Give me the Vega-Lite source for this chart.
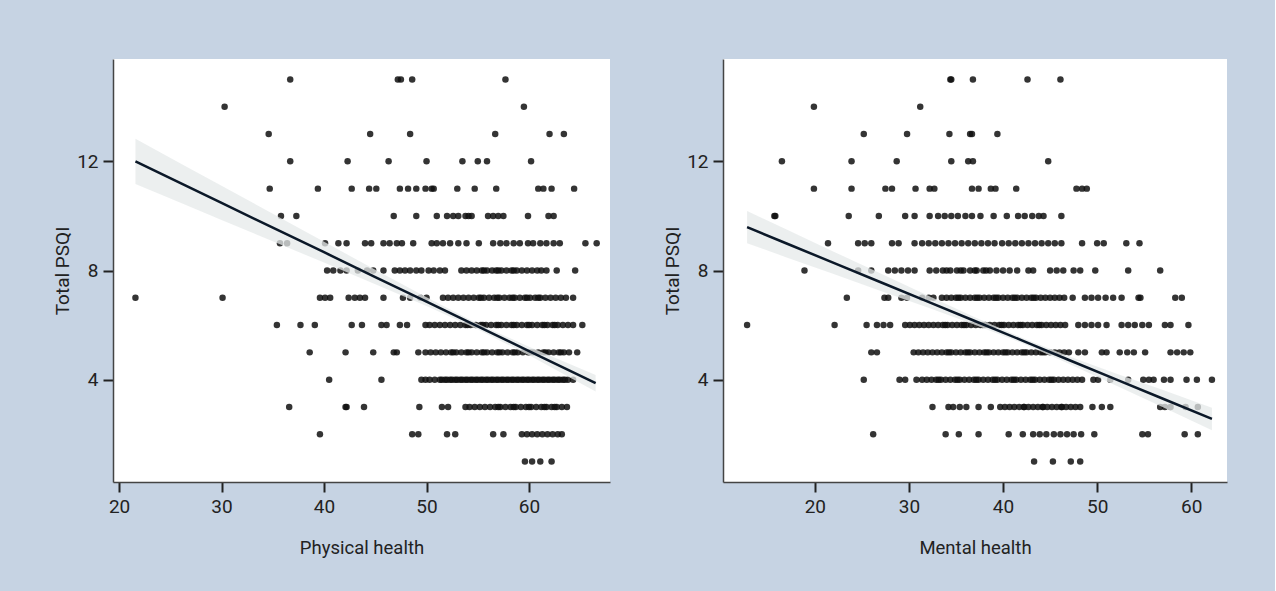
{
"$schema": "https://vega.github.io/schema/vega-lite/v6.json",
"background": "#c6d3e3",
"padding": {"left": 53, "top": 59, "right": 48, "bottom": 35},
"spacing": 53,
"config": {
  "view": {"fill": "white", "stroke": null},
  "font": "Roboto",
  "axis": {"grid": false, "domainColor": "#444", "domainWidth": 1.5, "tickColor": "#222", "tickWidth": 2, "tickSize": 10, "labelFontSize": 19, "labelColor": "#222", "labelPadding": 5, "titleFontSize": 18.5, "titleFontWeight": "normal", "titleColor": "#222"},
  "axisX": {"titlePadding": 22},
  "axisY": {"titlePadding": 4, "titleFontSize": 19}
},
"datasets": {
"physical": [
{"x":36.7,"y":15},{"x":47.2,"y":15},{"x":47.5,"y":15},{"x":48.6,"y":15},{"x":57.7,"y":15},
{"x":30.3,"y":14},{"x":59.5,"y":14},
{"x":34.6,"y":13},{"x":44.5,"y":13},{"x":48.4,"y":13},{"x":56.7,"y":13},{"x":62.0,"y":13},{"x":63.4,"y":13},
{"x":36.7,"y":12},{"x":42.3,"y":12},{"x":46.3,"y":12},{"x":50.0,"y":12},{"x":53.5,"y":12},{"x":55.0,"y":12},{"x":55.9,"y":12},{"x":60.2,"y":12},
{"x":34.7,"y":11},{"x":39.4,"y":11},{"x":42.7,"y":11},{"x":44.4,"y":11},{"x":45.1,"y":11},{"x":47.4,"y":11},{"x":48.2,"y":11},{"x":49.0,"y":11},{"x":49.9,"y":11},{"x":50.5,"y":11},{"x":50.7,"y":11},{"x":53.0,"y":11},{"x":54.7,"y":11},{"x":56.8,"y":11},{"x":60.9,"y":11},{"x":61.4,"y":11},{"x":62.2,"y":11},{"x":64.4,"y":11},
{"x":35.8,"y":10},{"x":37.3,"y":10},{"x":46.8,"y":10},{"x":49.0,"y":10},{"x":51.0,"y":10},{"x":52.0,"y":10},{"x":52.6,"y":10},{"x":53.1,"y":10},{"x":53.8,"y":10},{"x":54.1,"y":10},{"x":54.4,"y":10},{"x":56.0,"y":10},{"x":56.5,"y":10},{"x":57.0,"y":10},{"x":57.5,"y":10},{"x":59.9,"y":10},{"x":61.9,"y":10},{"x":62.4,"y":10},
{"x":35.7,"y":9},{"x":36.4,"y":9},{"x":40.1,"y":9},{"x":41.4,"y":9},{"x":42.2,"y":9},{"x":44.0,"y":9},{"x":44.6,"y":9},{"x":45.8,"y":9},{"x":46.4,"y":9},{"x":47.1,"y":9},{"x":47.6,"y":9},{"x":48.7,"y":9},{"x":50.5,"y":9},{"x":51.0,"y":9},{"x":51.6,"y":9},{"x":52.3,"y":9},{"x":53.1,"y":9},{"x":53.9,"y":9},{"x":55.1,"y":9},{"x":56.5,"y":9},{"x":57.2,"y":9},{"x":57.8,"y":9},{"x":58.5,"y":9},{"x":59.1,"y":9},{"x":59.9,"y":9},{"x":60.4,"y":9},{"x":61.1,"y":9},{"x":61.7,"y":9},{"x":62.4,"y":9},{"x":63.0,"y":9},{"x":65.5,"y":9},{"x":66.6,"y":9},
{"x":40.3,"y":8},{"x":40.9,"y":8},{"x":41.6,"y":8},{"x":42.2,"y":8},{"x":43.3,"y":8},{"x":44.2,"y":8},{"x":44.8,"y":8},{"x":45.8,"y":8},{"x":46.9,"y":8},{"x":47.4,"y":8},{"x":47.9,"y":8},{"x":48.4,"y":8},{"x":49.0,"y":8},{"x":49.5,"y":8},{"x":50.2,"y":8},{"x":50.7,"y":8},{"x":51.3,"y":8},{"x":51.8,"y":8},{"x":53.4,"y":8},{"x":53.9,"y":8},{"x":54.4,"y":8},{"x":54.9,"y":8},{"x":55.4,"y":8},{"x":55.9,"y":8},{"x":56.4,"y":8},{"x":56.8,"y":8},{"x":57.3,"y":8},{"x":57.8,"y":8},{"x":58.3,"y":8},{"x":58.8,"y":8},{"x":59.3,"y":8},{"x":59.8,"y":8},{"x":60.3,"y":8},{"x":60.8,"y":8},{"x":61.2,"y":8},{"x":61.7,"y":8},{"x":62.7,"y":8},{"x":64.5,"y":8},{"x":55.6,"y":8},{"x":57.0,"y":8},{"x":58.5,"y":8},
{"x":21.6,"y":7},{"x":30.1,"y":7},{"x":39.6,"y":7},{"x":40.1,"y":7},{"x":40.6,"y":7},{"x":42.4,"y":7},{"x":43.0,"y":7},{"x":43.5,"y":7},{"x":44.0,"y":7},{"x":45.8,"y":7},{"x":47.7,"y":7},{"x":48.4,"y":7},{"x":49.4,"y":7},{"x":50.0,"y":7},
{"x":51.6,"y":7},{"x":52.1,"y":7},{"x":52.6,"y":7},{"x":53.1,"y":7},{"x":53.6,"y":7},{"x":54.1,"y":7},{"x":54.6,"y":7},{"x":55.1,"y":7},{"x":55.6,"y":7},{"x":56.1,"y":7},{"x":56.6,"y":7},{"x":57.1,"y":7},{"x":57.6,"y":7},{"x":58.1,"y":7},{"x":58.6,"y":7},{"x":59.1,"y":7},{"x":59.6,"y":7},{"x":60.1,"y":7},{"x":60.6,"y":7},{"x":61.1,"y":7},{"x":61.6,"y":7},{"x":62.1,"y":7},{"x":62.6,"y":7},{"x":63.1,"y":7},{"x":63.6,"y":7},{"x":64.3,"y":7},{"x":55.3,"y":7},{"x":56.9,"y":7},{"x":58.4,"y":7},{"x":59.8,"y":7},{"x":60.9,"y":7},
{"x":35.4,"y":6},{"x":37.7,"y":6},{"x":39.1,"y":6},{"x":42.7,"y":6},{"x":43.7,"y":6},{"x":45.6,"y":6},{"x":46.1,"y":6},{"x":47.4,"y":6},{"x":48.1,"y":6},{"x":49.9,"y":6},{"x":50.3,"y":6},
{"x":50.8,"y":6},{"x":51.3,"y":6},{"x":51.8,"y":6},{"x":52.3,"y":6},{"x":52.8,"y":6},{"x":53.3,"y":6},{"x":53.8,"y":6},{"x":54.3,"y":6},{"x":54.8,"y":6},{"x":55.3,"y":6},{"x":55.8,"y":6},{"x":56.3,"y":6},{"x":56.8,"y":6},{"x":57.3,"y":6},{"x":57.8,"y":6},{"x":58.3,"y":6},{"x":58.8,"y":6},{"x":59.3,"y":6},{"x":59.8,"y":6},{"x":60.3,"y":6},{"x":60.8,"y":6},{"x":61.3,"y":6},{"x":61.8,"y":6},{"x":62.3,"y":6},{"x":62.8,"y":6},{"x":63.3,"y":6},{"x":63.8,"y":6},{"x":64.3,"y":6},{"x":65.2,"y":6},{"x":54.0,"y":6},{"x":55.5,"y":6},{"x":57.0,"y":6},{"x":58.5,"y":6},{"x":60.0,"y":6},{"x":61.5,"y":6},{"x":62.5,"y":6},
{"x":38.6,"y":5},{"x":42.1,"y":5},{"x":44.8,"y":5},{"x":46.8,"y":5},{"x":47.1,"y":5},{"x":49.2,"y":5},
{"x":49.9,"y":5},{"x":50.4,"y":5},{"x":50.9,"y":5},{"x":51.4,"y":5},{"x":51.9,"y":5},{"x":52.4,"y":5},{"x":52.9,"y":5},{"x":53.4,"y":5},{"x":53.9,"y":5},{"x":54.4,"y":5},{"x":54.9,"y":5},{"x":55.4,"y":5},{"x":55.9,"y":5},{"x":56.4,"y":5},{"x":56.9,"y":5},{"x":57.4,"y":5},{"x":57.9,"y":5},{"x":58.4,"y":5},{"x":58.9,"y":5},{"x":59.4,"y":5},{"x":59.9,"y":5},{"x":60.4,"y":5},{"x":60.9,"y":5},{"x":61.4,"y":5},{"x":61.9,"y":5},{"x":62.4,"y":5},{"x":62.9,"y":5},{"x":63.4,"y":5},{"x":63.9,"y":5},{"x":64.7,"y":5},{"x":52.6,"y":5},{"x":54.1,"y":5},{"x":55.6,"y":5},{"x":57.1,"y":5},{"x":58.6,"y":5},{"x":60.1,"y":5},{"x":61.6,"y":5},{"x":63.1,"y":5},
{"x":40.5,"y":4},{"x":45.6,"y":4},{"x":49.5,"y":4},{"x":49.9,"y":4},
{"x":50.3,"y":4},{"x":50.8,"y":4},{"x":51.3,"y":4},{"x":51.8,"y":4},{"x":52.3,"y":4},{"x":52.8,"y":4},{"x":53.3,"y":4},{"x":53.8,"y":4},{"x":54.3,"y":4},{"x":54.8,"y":4},{"x":55.3,"y":4},{"x":55.8,"y":4},{"x":56.3,"y":4},{"x":56.8,"y":4},{"x":57.3,"y":4},{"x":57.8,"y":4},{"x":58.3,"y":4},{"x":58.8,"y":4},{"x":59.3,"y":4},{"x":59.8,"y":4},{"x":60.3,"y":4},{"x":60.8,"y":4},{"x":61.3,"y":4},{"x":61.8,"y":4},{"x":62.3,"y":4},{"x":62.8,"y":4},{"x":63.3,"y":4},{"x":63.8,"y":4},{"x":64.3,"y":4},
{"x":51.5,"y":4},{"x":52.0,"y":4},{"x":52.5,"y":4},{"x":53.0,"y":4},{"x":53.5,"y":4},{"x":54.0,"y":4},{"x":54.5,"y":4},{"x":55.0,"y":4},{"x":55.5,"y":4},{"x":56.0,"y":4},{"x":56.5,"y":4},{"x":57.0,"y":4},{"x":57.5,"y":4},{"x":58.0,"y":4},{"x":58.5,"y":4},{"x":59.0,"y":4},{"x":59.5,"y":4},{"x":60.0,"y":4},{"x":60.5,"y":4},{"x":61.0,"y":4},{"x":61.5,"y":4},{"x":62.0,"y":4},{"x":62.5,"y":4},{"x":63.0,"y":4},{"x":63.5,"y":4},
{"x":36.6,"y":3},{"x":42.1,"y":3},{"x":42.2,"y":3},{"x":43.9,"y":3},{"x":49.3,"y":3},{"x":51.5,"y":3},{"x":52.1,"y":3},{"x":53.8,"y":3},{"x":54.2,"y":3},{"x":54.7,"y":3},
{"x":55.2,"y":3},{"x":55.7,"y":3},{"x":56.2,"y":3},{"x":56.7,"y":3},{"x":57.2,"y":3},{"x":57.7,"y":3},{"x":58.2,"y":3},{"x":58.7,"y":3},{"x":59.2,"y":3},{"x":59.7,"y":3},{"x":60.2,"y":3},{"x":60.7,"y":3},{"x":61.2,"y":3},{"x":61.7,"y":3},{"x":62.2,"y":3},{"x":62.7,"y":3},{"x":63.2,"y":3},{"x":63.7,"y":3},{"x":57.0,"y":3},{"x":58.5,"y":3},{"x":60.0,"y":3},{"x":61.5,"y":3},{"x":62.5,"y":3},
{"x":39.6,"y":2},{"x":48.6,"y":2},{"x":49.2,"y":2},{"x":52.0,"y":2},{"x":52.8,"y":2},{"x":56.5,"y":2},{"x":57.5,"y":2},{"x":59.3,"y":2},{"x":59.8,"y":2},{"x":60.3,"y":2},{"x":60.8,"y":2},{"x":61.3,"y":2},{"x":61.8,"y":2},{"x":62.3,"y":2},{"x":62.8,"y":2},{"x":63.2,"y":2},
{"x":59.6,"y":1},{"x":60.3,"y":1},{"x":61.1,"y":1},{"x":62.2,"y":1}
],
"mental": [
{"x":34.4,"y":15},{"x":34.5,"y":15},{"x":36.8,"y":15},{"x":42.6,"y":15},{"x":46.1,"y":15},
{"x":19.9,"y":14},{"x":31.2,"y":14},
{"x":25.2,"y":13},{"x":29.8,"y":13},{"x":34.3,"y":13},{"x":36.5,"y":13},{"x":36.7,"y":13},{"x":39.4,"y":13},
{"x":16.5,"y":12},{"x":23.9,"y":12},{"x":28.7,"y":12},{"x":34.5,"y":12},{"x":36.3,"y":12},{"x":36.8,"y":12},{"x":44.8,"y":12},
{"x":19.9,"y":11},{"x":23.9,"y":11},{"x":27.5,"y":11},{"x":28.2,"y":11},{"x":30.7,"y":11},{"x":32.2,"y":11},{"x":32.7,"y":11},{"x":36.7,"y":11},{"x":37.4,"y":11},{"x":38.7,"y":11},{"x":39.2,"y":11},{"x":41.4,"y":11},{"x":47.8,"y":11},{"x":48.4,"y":11},{"x":48.9,"y":11},
{"x":15.7,"y":10},{"x":15.8,"y":10},{"x":23.6,"y":10},{"x":26.8,"y":10},{"x":29.6,"y":10},{"x":30.6,"y":10},{"x":32.2,"y":10},{"x":33.1,"y":10},{"x":33.8,"y":10},{"x":34.5,"y":10},{"x":35.2,"y":10},{"x":36.0,"y":10},{"x":36.7,"y":10},{"x":37.6,"y":10},{"x":39.0,"y":10},{"x":40.4,"y":10},{"x":41.6,"y":10},{"x":42.3,"y":10},{"x":43.1,"y":10},{"x":43.8,"y":10},{"x":44.3,"y":10},{"x":46.2,"y":10},
{"x":21.4,"y":9},{"x":24.6,"y":9},{"x":25.3,"y":9},{"x":26.0,"y":9},{"x":28.2,"y":9},{"x":28.9,"y":9},{"x":30.6,"y":9},{"x":31.4,"y":9},{"x":32.1,"y":9},{"x":32.8,"y":9},{"x":33.5,"y":9},{"x":34.2,"y":9},{"x":34.9,"y":9},{"x":35.6,"y":9},{"x":36.3,"y":9},{"x":37.0,"y":9},{"x":37.7,"y":9},{"x":38.4,"y":9},{"x":39.1,"y":9},{"x":39.9,"y":9},{"x":40.6,"y":9},{"x":41.3,"y":9},{"x":42.0,"y":9},{"x":42.7,"y":9},{"x":43.4,"y":9},{"x":44.1,"y":9},{"x":44.8,"y":9},{"x":45.5,"y":9},{"x":46.2,"y":9},{"x":48.4,"y":9},{"x":50.0,"y":9},{"x":50.7,"y":9},{"x":53.1,"y":9},{"x":54.5,"y":9},
{"x":18.9,"y":8},{"x":24.6,"y":8},{"x":26.0,"y":8},{"x":27.8,"y":8},{"x":28.5,"y":8},{"x":29.2,"y":8},{"x":29.9,"y":8},{"x":30.6,"y":8},{"x":32.2,"y":8},{"x":32.9,"y":8},{"x":33.6,"y":8},{"x":34.4,"y":8},{"x":35.1,"y":8},{"x":35.8,"y":8},{"x":36.5,"y":8},{"x":37.2,"y":8},{"x":37.9,"y":8},{"x":38.6,"y":8},{"x":39.3,"y":8},{"x":40.0,"y":8},{"x":40.7,"y":8},{"x":41.5,"y":8},{"x":42.7,"y":8},{"x":43.2,"y":8},{"x":45.0,"y":8},{"x":45.7,"y":8},{"x":46.4,"y":8},{"x":47.5,"y":8},{"x":48.2,"y":8},{"x":49.8,"y":8},{"x":53.3,"y":8},{"x":56.7,"y":8},{"x":34.0,"y":8},{"x":35.5,"y":8},{"x":37.0,"y":8},{"x":38.2,"y":8},
{"x":23.4,"y":7},{"x":27.4,"y":7},{"x":27.8,"y":7},{"x":29.2,"y":7},{"x":29.8,"y":7},{"x":31.4,"y":7},{"x":32.1,"y":7},{"x":32.6,"y":7},
{"x":33.5,"y":7},{"x":34.0,"y":7},{"x":34.5,"y":7},{"x":35.0,"y":7},{"x":35.5,"y":7},{"x":36.0,"y":7},{"x":36.5,"y":7},{"x":37.0,"y":7},{"x":37.5,"y":7},{"x":38.0,"y":7},{"x":38.5,"y":7},{"x":39.0,"y":7},{"x":39.5,"y":7},{"x":40.0,"y":7},{"x":40.5,"y":7},{"x":41.0,"y":7},{"x":41.5,"y":7},{"x":42.0,"y":7},{"x":42.5,"y":7},{"x":43.0,"y":7},{"x":43.5,"y":7},{"x":44.0,"y":7},{"x":44.5,"y":7},{"x":45.0,"y":7},{"x":45.5,"y":7},{"x":46.0,"y":7},{"x":46.5,"y":7},
{"x":47.4,"y":7},{"x":48.7,"y":7},{"x":49.4,"y":7},{"x":50.1,"y":7},{"x":50.9,"y":7},{"x":51.7,"y":7},{"x":52.6,"y":7},{"x":54.4,"y":7},{"x":54.6,"y":7},{"x":58.3,"y":7},{"x":59.0,"y":7},{"x":35.25,"y":7},{"x":37.25,"y":7},{"x":39.25,"y":7},{"x":41.25,"y":7},{"x":43.25,"y":7},
{"x":12.8,"y":6},{"x":22.1,"y":6},{"x":25.5,"y":6},{"x":26.6,"y":6},{"x":27.3,"y":6},{"x":28.0,"y":6},
{"x":29.6,"y":6},{"x":30.1,"y":6},{"x":30.6,"y":6},{"x":31.1,"y":6},{"x":31.6,"y":6},{"x":32.1,"y":6},{"x":32.6,"y":6},{"x":33.1,"y":6},{"x":33.6,"y":6},{"x":34.1,"y":6},{"x":34.6,"y":6},{"x":35.1,"y":6},{"x":35.6,"y":6},{"x":36.1,"y":6},{"x":36.6,"y":6},{"x":37.1,"y":6},{"x":37.6,"y":6},{"x":38.1,"y":6},{"x":38.6,"y":6},{"x":39.1,"y":6},{"x":39.6,"y":6},{"x":40.1,"y":6},{"x":40.6,"y":6},{"x":41.1,"y":6},{"x":41.6,"y":6},{"x":42.1,"y":6},{"x":42.6,"y":6},{"x":43.1,"y":6},{"x":43.6,"y":6},{"x":44.1,"y":6},{"x":44.6,"y":6},{"x":45.1,"y":6},{"x":45.6,"y":6},{"x":46.1,"y":6},{"x":46.6,"y":6},
{"x":48.0,"y":6},{"x":48.7,"y":6},{"x":49.4,"y":6},{"x":50.1,"y":6},{"x":51.0,"y":6},{"x":52.6,"y":6},{"x":53.3,"y":6},{"x":54.0,"y":6},{"x":54.8,"y":6},{"x":55.5,"y":6},{"x":57.2,"y":6},{"x":57.8,"y":6},{"x":59.7,"y":6},{"x":33.85,"y":6},{"x":35.85,"y":6},{"x":37.85,"y":6},{"x":39.85,"y":6},{"x":41.85,"y":6},{"x":43.85,"y":6},
{"x":26.0,"y":5},{"x":26.6,"y":5},
{"x":30.5,"y":5},{"x":31.0,"y":5},{"x":31.5,"y":5},{"x":32.0,"y":5},{"x":32.5,"y":5},{"x":33.0,"y":5},{"x":33.5,"y":5},{"x":34.0,"y":5},{"x":34.5,"y":5},{"x":35.0,"y":5},{"x":35.5,"y":5},{"x":36.0,"y":5},{"x":36.5,"y":5},{"x":37.0,"y":5},{"x":37.5,"y":5},{"x":38.0,"y":5},{"x":38.5,"y":5},{"x":39.0,"y":5},{"x":39.5,"y":5},{"x":40.0,"y":5},{"x":40.5,"y":5},{"x":41.0,"y":5},{"x":41.5,"y":5},{"x":42.0,"y":5},{"x":42.5,"y":5},{"x":43.0,"y":5},{"x":43.5,"y":5},{"x":44.0,"y":5},{"x":44.5,"y":5},{"x":45.0,"y":5},{"x":45.5,"y":5},{"x":46.0,"y":5},{"x":46.5,"y":5},{"x":47.0,"y":5},
{"x":48.0,"y":5},{"x":48.7,"y":5},{"x":50.5,"y":5},{"x":51.0,"y":5},{"x":52.4,"y":5},{"x":53.2,"y":5},{"x":53.9,"y":5},{"x":55.1,"y":5},{"x":57.8,"y":5},{"x":58.5,"y":5},{"x":59.2,"y":5},{"x":59.9,"y":5},{"x":34.25,"y":5},{"x":36.25,"y":5},{"x":38.25,"y":5},{"x":40.25,"y":5},{"x":42.25,"y":5},{"x":44.25,"y":5},
{"x":25.2,"y":4},{"x":29.0,"y":4},{"x":29.6,"y":4},{"x":30.8,"y":4},
{"x":31.4,"y":4},{"x":31.9,"y":4},{"x":32.4,"y":4},{"x":32.9,"y":4},{"x":33.4,"y":4},{"x":33.9,"y":4},{"x":34.4,"y":4},{"x":34.9,"y":4},{"x":35.4,"y":4},{"x":35.9,"y":4},{"x":36.4,"y":4},{"x":36.9,"y":4},{"x":37.4,"y":4},{"x":37.9,"y":4},{"x":38.4,"y":4},{"x":38.9,"y":4},{"x":39.4,"y":4},{"x":39.9,"y":4},{"x":40.4,"y":4},{"x":40.9,"y":4},{"x":41.4,"y":4},{"x":41.9,"y":4},{"x":42.4,"y":4},{"x":42.9,"y":4},{"x":43.4,"y":4},{"x":43.9,"y":4},{"x":44.4,"y":4},{"x":44.9,"y":4},{"x":45.4,"y":4},{"x":45.9,"y":4},{"x":46.4,"y":4},{"x":46.9,"y":4},{"x":47.4,"y":4},{"x":47.9,"y":4},{"x":48.4,"y":4},
{"x":49.6,"y":4},{"x":50.1,"y":4},{"x":51.4,"y":4},{"x":53.3,"y":4},{"x":54.9,"y":4},{"x":55.5,"y":4},{"x":56.0,"y":4},{"x":57.1,"y":4},{"x":57.8,"y":4},{"x":59.5,"y":4},{"x":60.6,"y":4},{"x":62.2,"y":4},{"x":33.15,"y":4},{"x":35.15,"y":4},{"x":37.15,"y":4},{"x":39.15,"y":4},{"x":41.15,"y":4},{"x":43.15,"y":4},{"x":45.15,"y":4},
{"x":32.5,"y":3},{"x":34.2,"y":3},{"x":34.7,"y":3},{"x":35.4,"y":3},{"x":36.1,"y":3},{"x":37.4,"y":3},{"x":38.7,"y":3},
{"x":39.7,"y":3},{"x":40.2,"y":3},{"x":40.7,"y":3},{"x":41.2,"y":3},{"x":41.7,"y":3},{"x":42.2,"y":3},{"x":42.7,"y":3},{"x":43.2,"y":3},{"x":43.7,"y":3},{"x":44.2,"y":3},{"x":44.7,"y":3},{"x":45.2,"y":3},{"x":45.7,"y":3},{"x":46.2,"y":3},{"x":46.7,"y":3},{"x":47.2,"y":3},{"x":47.7,"y":3},{"x":48.2,"y":3},
{"x":49.5,"y":3},{"x":50.5,"y":3},{"x":51.4,"y":3},{"x":56.7,"y":3},{"x":57.2,"y":3},{"x":57.8,"y":3},{"x":59.4,"y":3},{"x":60.7,"y":3},{"x":42.25,"y":3},{"x":44.25,"y":3},{"x":46.25,"y":3},
{"x":26.2,"y":2},{"x":33.9,"y":2},{"x":35.3,"y":2},{"x":37.4,"y":2},{"x":40.6,"y":2},{"x":42.1,"y":2},{"x":43.2,"y":2},{"x":43.9,"y":2},{"x":44.6,"y":2},{"x":45.4,"y":2},{"x":46.1,"y":2},{"x":46.8,"y":2},{"x":47.5,"y":2},{"x":48.3,"y":2},{"x":49.7,"y":2},{"x":54.8,"y":2},{"x":55.4,"y":2},{"x":59.3,"y":2},{"x":60.7,"y":2},
{"x":43.3,"y":1},{"x":45.3,"y":1},{"x":47.2,"y":1},{"x":48.2,"y":1}
],
"fitP": [
{"x":21.6,"y":12.00,"lo":11.17,"hi":12.83},
{"x":26,"y":11.20,"lo":10.48,"hi":11.92},
{"x":30,"y":10.48,"lo":9.85,"hi":11.11},
{"x":35,"y":9.57,"lo":9.07,"hi":10.08},
{"x":40,"y":8.67,"lo":8.29,"hi":9.05},
{"x":45,"y":7.76,"lo":7.50,"hi":8.03},
{"x":50,"y":6.86,"lo":6.70,"hi":7.02},
{"x":55,"y":5.95,"lo":5.85,"hi":6.05},
{"x":60,"y":5.05,"lo":4.89,"hi":5.21},
{"x":66.5,"y":3.87,"lo":3.57,"hi":4.17}
],
"fitM": [
{"x":12.8,"y":9.59,"lo":9.00,"hi":10.18},
{"x":17,"y":8.99,"lo":8.48,"hi":9.50},
{"x":22,"y":8.28,"lo":7.87,"hi":8.69},
{"x":27,"y":7.57,"lo":7.25,"hi":7.89},
{"x":32,"y":6.86,"lo":6.64,"hi":7.08},
{"x":37,"y":6.15,"lo":6.01,"hi":6.29},
{"x":42,"y":5.44,"lo":5.34,"hi":5.54},
{"x":47,"y":4.72,"lo":4.58,"hi":4.86},
{"x":52,"y":4.01,"lo":3.79,"hi":4.23},
{"x":57,"y":3.30,"lo":2.99,"hi":3.62},
{"x":62.2,"y":2.56,"lo":2.15,"hi":2.97}
]
},
"hconcat": [
{
  "width": 497, "height": 423,
  "layer": [
    {"data": {"name": "physical"}, "mark": {"type": "circle", "size": 42, "color": "#111", "opacity": 0.85},
     "encoding": {
       "x": {"field": "x", "type": "quantitative", "title": "Physical health", "scale": {"domain": [19.41, 67.9], "nice": false, "zero": false}, "axis": {"values": [20, 30, 40, 50, 60]}},
       "y": {"field": "y", "type": "quantitative", "title": "Total PSQI", "scale": {"domain": [0.25, 15.75], "nice": false, "zero": false}, "axis": {"values": [4, 8, 12]}}
     }},
    {"data": {"name": "fitP"}, "mark": {"type": "area", "color": "#e6e9e9", "opacity": 0.75},
     "encoding": {
       "x": {"field": "x", "type": "quantitative", "title": "Physical health"},
       "y": {"field": "lo", "type": "quantitative", "title": "Total PSQI"},
       "y2": {"field": "hi"}
     }},
    {"data": {"name": "fitP"}, "mark": {"type": "line", "color": "#0b1828", "strokeWidth": 2.5},
     "encoding": {
       "x": {"field": "x", "type": "quantitative", "title": "Physical health"},
       "y": {"field": "y", "type": "quantitative", "title": "Total PSQI"}
     }}
  ]
},
{
  "width": 504, "height": 423,
  "layer": [
    {"data": {"name": "mental"}, "mark": {"type": "circle", "size": 42, "color": "#111", "opacity": 0.85},
     "encoding": {
       "x": {"field": "x", "type": "quantitative", "title": "Mental health", "scale": {"domain": [10.24, 63.8], "nice": false, "zero": false}, "axis": {"values": [20, 30, 40, 50, 60]}},
       "y": {"field": "y", "type": "quantitative", "title": "Total PSQI", "scale": {"domain": [0.25, 15.75], "nice": false, "zero": false}, "axis": {"values": [4, 8, 12]}}
     }},
    {"data": {"name": "fitM"}, "mark": {"type": "area", "color": "#e6e9e9", "opacity": 0.75},
     "encoding": {
       "x": {"field": "x", "type": "quantitative", "title": "Mental health"},
       "y": {"field": "lo", "type": "quantitative", "title": "Total PSQI"},
       "y2": {"field": "hi"}
     }},
    {"data": {"name": "fitM"}, "mark": {"type": "line", "color": "#0b1828", "strokeWidth": 2.5},
     "encoding": {
       "x": {"field": "x", "type": "quantitative", "title": "Mental health"},
       "y": {"field": "y", "type": "quantitative", "title": "Total PSQI"}
     }}
  ]
}
]
}
